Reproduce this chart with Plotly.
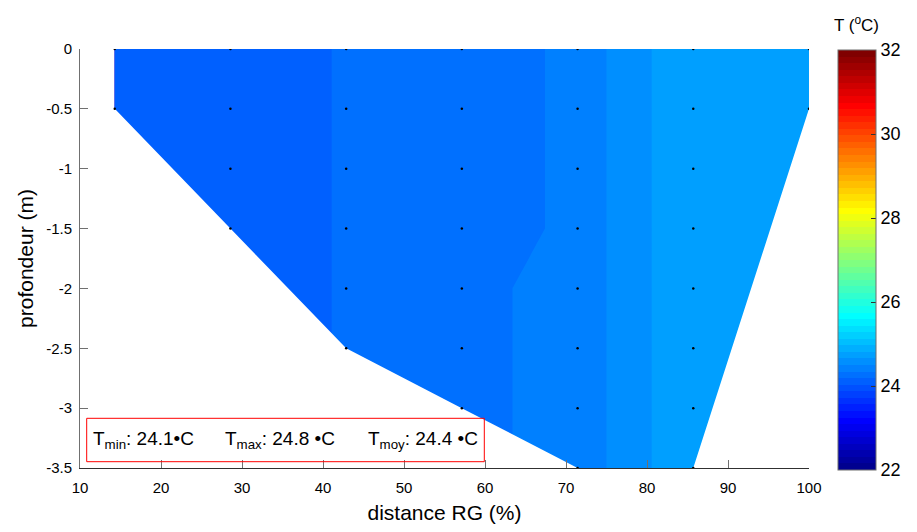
import plotly.graph_objects as go

# ---------------- data ----------------
distance = [14.29, 28.57, 42.86, 57.14, 71.43, 85.71, 100.0]      # % from left bank
depth = [0.0, -0.5, -1.0, -1.5, -2.0, -2.5, -3.0, -3.5]             # m
bed = [-0.5, -1.5, -2.5, -3.0, -3.5, -3.5, -0.5]                     # bottom depth of each vertical
# temperature (°C) per vertical, top to bottom (None = below bed)
T_v1 = [24.1, 24.1, None, None, None, None, None, None]
T_v2 = [24.1, 24.1, 24.1, 24.1, None, None, None, None]
T_v3 = [24.2, 24.2, 24.2, 24.2, 24.2, 24.2, None, None]
T_v4 = [24.2, 24.2, 24.2, 24.2, 24.3, 24.3, 24.3, None]
T_v5 = [24.4, 24.4, 24.4, 24.4, 24.4, 24.4, 24.4, 24.4]
T_v6 = [24.8, 24.8, 24.8, 24.8, 24.8, 24.8, 24.8, 24.8]
T_v7 = [24.8, 24.8, None, None, None, None, None, None]
verticals = [T_v1, T_v2, T_v3, T_v4, T_v5, T_v6, T_v7]
stats_labels = ["min", "max", "moy"]
stats_values = ["24.1•C", "24.8 •C", "24.4 •C"]
x_ticks = [10, 20, 30, 40, 50, 60, 70, 80, 90, 100]
y_ticks = [0, -0.5, -1, -1.5, -2, -2.5, -3, -3.5]
cbar_ticks = [22, 24, 26, 28, 30, 32]
T_range = [22, 32]
x_range = [10, 100]
y_range = [-3.5, 0]

# ---------------- MATLAB jet(64) ----------------
def jet(n=64):
    m = -(-n // 4)
    u = [i / m for i in range(1, m + 1)] + [1.0] * (m - 1) + [i / m for i in range(m, 0, -1)]
    g0 = -(-m // 2) - (1 if n % 4 == 1 else 0)
    cols = [[0.0, 0.0, 0.0] for _ in range(n)]
    for k, val in enumerate(u):
        gi = g0 + k + 1
        for ch, idx in ((1, gi), (0, gi + m), (2, gi - m)):
            if 1 <= idx <= n:
                cols[idx - 1][ch] = val
    return ["rgb(%d,%d,%d)" % tuple(round(255 * c) for c in col) for col in cols]

JET = jet(64)
cscale = []
for i, c in enumerate(JET):
    cscale.append([i / 64, c])
    cscale.append([(i + 1) / 64, c])

# gridding: extend each vertical downward with its deepest value
zgrid = []
for j in range(len(depth)):
    row = []
    for col in verticals:
        v = col[j]
        if v is None:
            v = [w for w in col if w is not None][-1]
        row.append(v)
    zgrid.append(row)

# ---------------- layout helpers ----------------
W, H = 917, 532
L, R, T, B = 80, 108, 49, 64
def px(xp):
    return (xp - L) / (W - L - R)
def py(yp):
    return 1 - (yp - T) / (H - T - B)

fig = go.Figure()

fig.add_trace(go.Contour(
    x=distance, y=depth, z=zgrid,
    zmin=T_range[0], zmax=T_range[1],
    autocontour=False,
    contours=dict(start=T_range[0], end=T_range[1], size=(T_range[1] - T_range[0]) / 64,
                  coloring="fill", showlines=False),
    line=dict(width=0, smoothing=0),
    colorscale=cscale,
    showscale=True,
    hoverinfo="skip",
    colorbar=dict(
        x=px(837.5), xanchor="left",
        y=py(260), yanchor="middle",
        lenmode="pixels", len=420,
        thicknessmode="pixels", thickness=38,
        xpad=0, ypad=0,
        outlinewidth=1, outlinecolor="#6e6e6e",
        tickmode="array", tickvals=cbar_ticks, ticktext=[str(t) for t in cbar_ticks],
        ticks="inside", ticklen=5, tickcolor="#333333",
        tickfont=dict(family="Liberation Sans", size=18, color="black"),
    ),
))

# white mask below the bed (and left of the first vertical)
mask_x = [x_range[0]] + distance + [x_range[1], x_range[0]]
mask_y = [bed[0]] + bed + [y_range[0], y_range[0]]
fig.add_trace(go.Scatter(
    x=mask_x, y=mask_y, mode="lines", fill="toself",
    fillcolor="white", line=dict(width=0, color="white"),
    hoverinfo="skip", showlegend=False,
))

# measurement points
pts_x, pts_y = [], []
for xv, col in zip(distance, verticals):
    for d, v in zip(depth, col):
        if v is not None:
            pts_x.append(xv)
            pts_y.append(d)
fig.add_trace(go.Scatter(
    x=pts_x, y=pts_y, mode="markers",
    marker=dict(color="black", size=2.5),
    hoverinfo="skip", showlegend=False,
))

annotations = []
starts = [90.5, 223, 366]
for s, lab, val in zip(starts, stats_labels, stats_values):
    annotations.append(dict(
        xref="paper", yref="paper", x=px(s), y=py(440), xanchor="left", yanchor="middle",
        text="T<sub>%s</sub>: %s" % (lab, val), showarrow=False,
        font=dict(family="Liberation Sans", size=19, color="black"),
    ))
annotations.append(dict(
    xref="paper", yref="paper", x=px(856), y=py(24), xanchor="center", yanchor="middle",
    text="T (<sup>o</sup>C)", showarrow=False,
    font=dict(family="Liberation Sans", size=17, color="black"),
))

fig.update_layout(
    width=W, height=H,
    margin=dict(l=L, r=R, t=T, b=B, autoexpand=False),
    paper_bgcolor="white", plot_bgcolor="white",
    font=dict(family="Liberation Sans", color="black"),
    showlegend=False,
    annotations=annotations,
    shapes=[dict(type="rect", xref="paper", yref="paper",
                 x0=px(86.7), x1=px(484.3), y0=py(461.7), y1=py(418.3),
                 line=dict(color="red", width=1), fillcolor="rgba(0,0,0,0)")],
    xaxis=dict(
        range=x_range, tickmode="array", tickvals=x_ticks, ticktext=[str(t) for t in x_ticks],
        ticks="inside", ticklen=8, tickcolor="#707070", tickwidth=1,
        showline=True, linecolor="#303030", linewidth=1, mirror=False,
        showgrid=False, zeroline=False,
        tickfont=dict(size=15, color="black"), ticklabelstandoff=6,
        title=dict(text="distance RG (%)", font=dict(size=21), standoff=10),
    ),
    yaxis=dict(
        range=y_range, tickmode="array", tickvals=y_ticks,
        ticktext=[("%g" % t) for t in y_ticks],
        ticks="inside", ticklen=8, tickcolor="#707070", tickwidth=1,
        showline=True, linecolor="#707070", linewidth=1, mirror=False,
        showgrid=False, zeroline=False,
        tickfont=dict(size=15, color="black"), ticklabelstandoff=4,
        title=dict(text="profondeur (m)", font=dict(size=21), standoff=6),
    ),
)

fig.write_html("out.html", config={"displayModeBar": False},
               post_script="document.body.style.margin='0px';")
